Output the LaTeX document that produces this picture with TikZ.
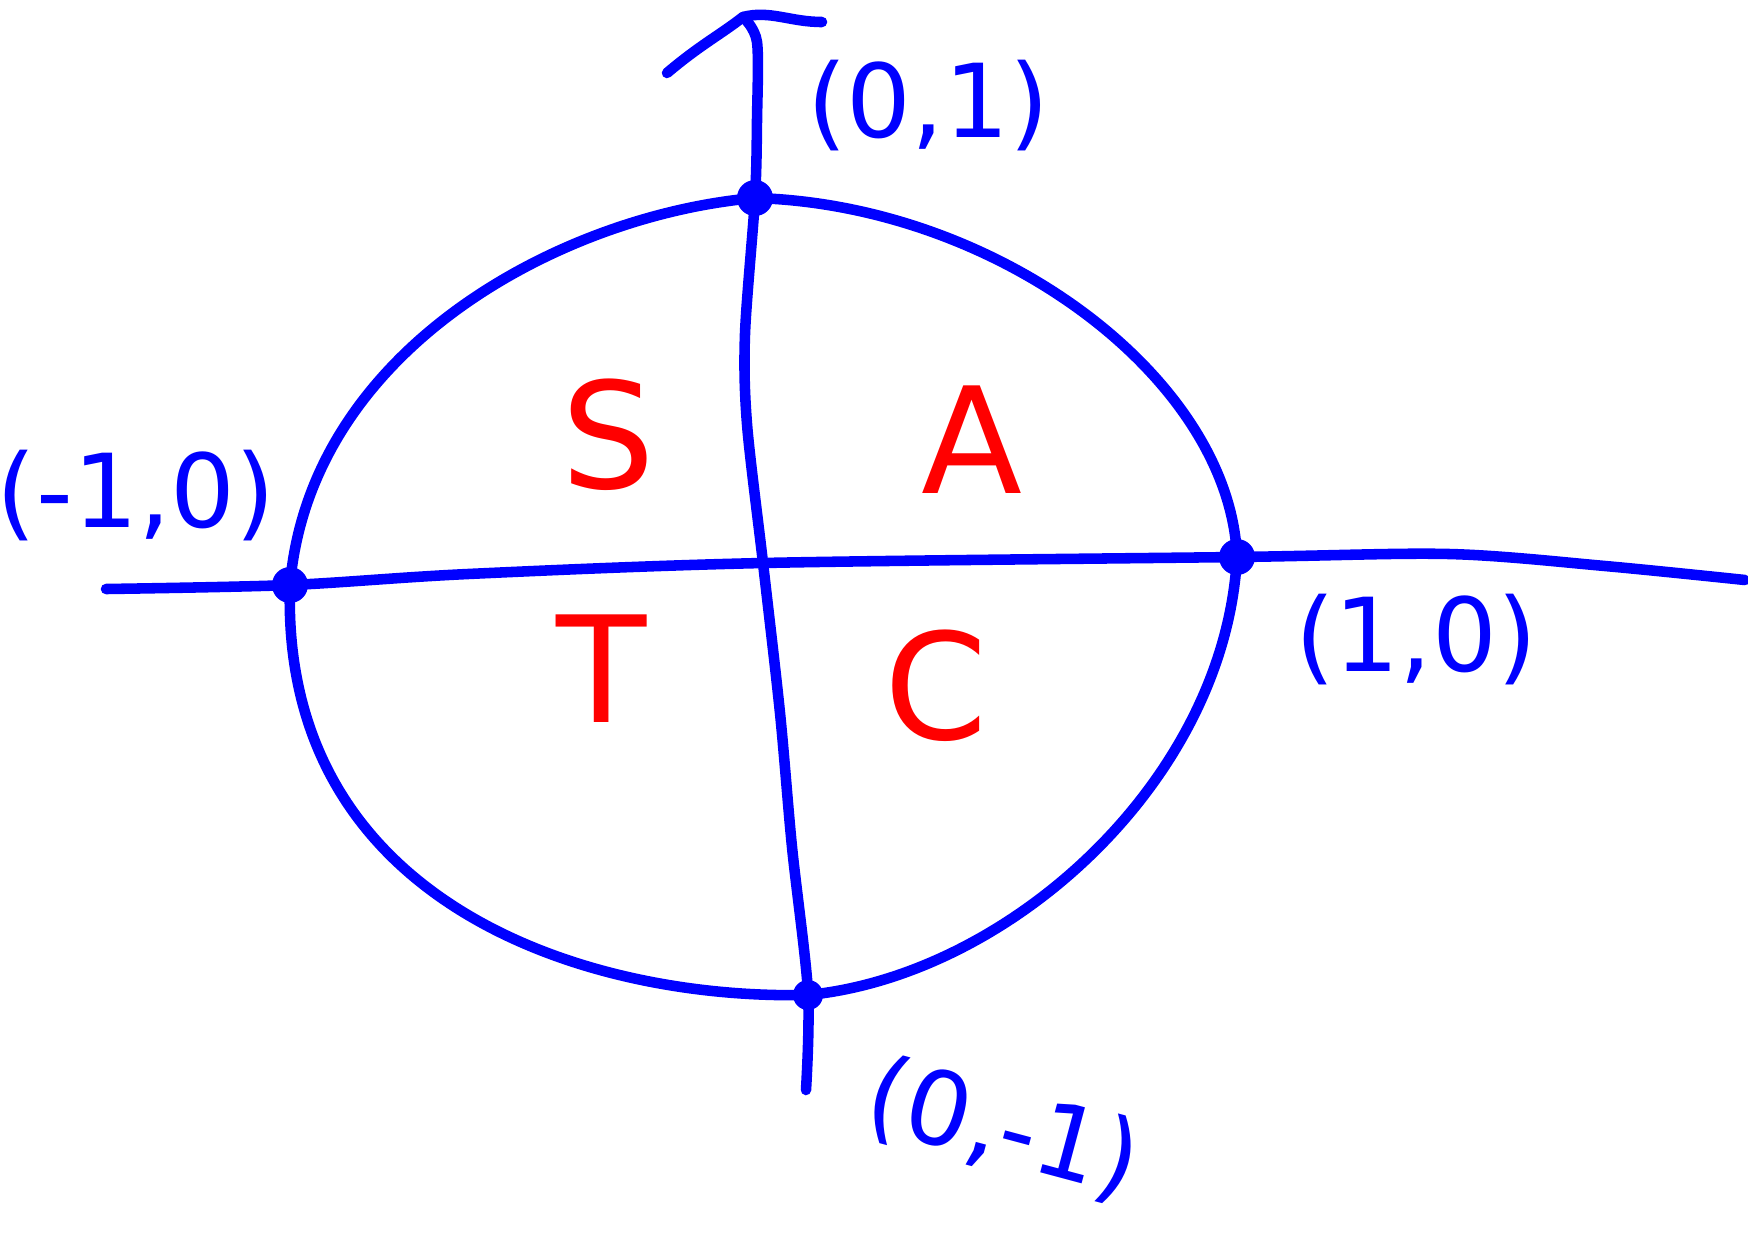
\documentclass[tikz,border=0pt]{standalone}
\usepackage{fontspec}
\setmainfont{DejaVu Sans}
\begin{document}
\begin{tikzpicture}[x=0.01cm,y=-0.01cm,
  ink/.style={draw=blue,line width=3pt,line cap=round,line join=round},
  pt/.style={circle,fill=blue,inner sep=0pt,minimum size=0.36cm},
  lab/.style={text=blue,font=\fontsize{29}{33}\selectfont},
  quad/.style={text=red,font=\fontsize{42}{46}\selectfont}]
\useasboundingbox (0,0) rectangle (1748,1242);
% points
\node[pt] (top) at (755,198) {};
\node[pt] (left) at (290,585) {};
\node[pt] (right) at (1237,557) {};
\node[pt,minimum size=0.3cm] (bottom) at (808,995) {};
% circle
\draw[ink] (top.center) .. controls (1000,205) and (1230,380) .. (right.center)
  .. controls (1225,780) and (1010,975) .. (bottom.center)
  .. controls (580,1000) and (280,900) .. (left.center)
  .. controls (310,350) and (560,215) .. (top.center);
% horizontal axis
\coordinate (hl) at (106,589);
\coordinate (hr) at (1745,580);
\draw[ink] plot[smooth,tension=0.5] coordinates {(hl)(290,585)(468,574)(763,563)(1237,557)(1449,554)(1605,566)(hr)};
% vertical axis
\coordinate (vt) at (743,17);
\coordinate (vb) at (806,1090);
\draw[ink] plot[smooth,tension=0.5] coordinates {(vt)(757,42)(757,120)(755,198)(745,334)(747,424)(763,563)(780,713)(792,847)(808,992)(vb)};
% arrow head
\coordinate (wl) at (667,73);
\coordinate (wr) at (822,22);
\draw[ink] (wl) .. controls (700,45) and (720,35) .. (vt) .. controls (770,10) and (790,22) .. (wr);
% labels
\node[lab] (ltop) at (928,106) {(0,1)};
\node[lab] (lleft) at (136,496) {(-1,0)};
\node[lab] (lright) at (1416,640) {(1,0)};
\node[lab,rotate=-15] (lbottom) at (1003,1130) {(0,-1)};
\node[quad] (S) at (608,435) {S};
\node[quad] (A) at (972,440) {A};
\node[quad] (T) at (602,669) {T};
\node[quad] (C) at (936,686) {C};
\end{tikzpicture}
\end{document}
